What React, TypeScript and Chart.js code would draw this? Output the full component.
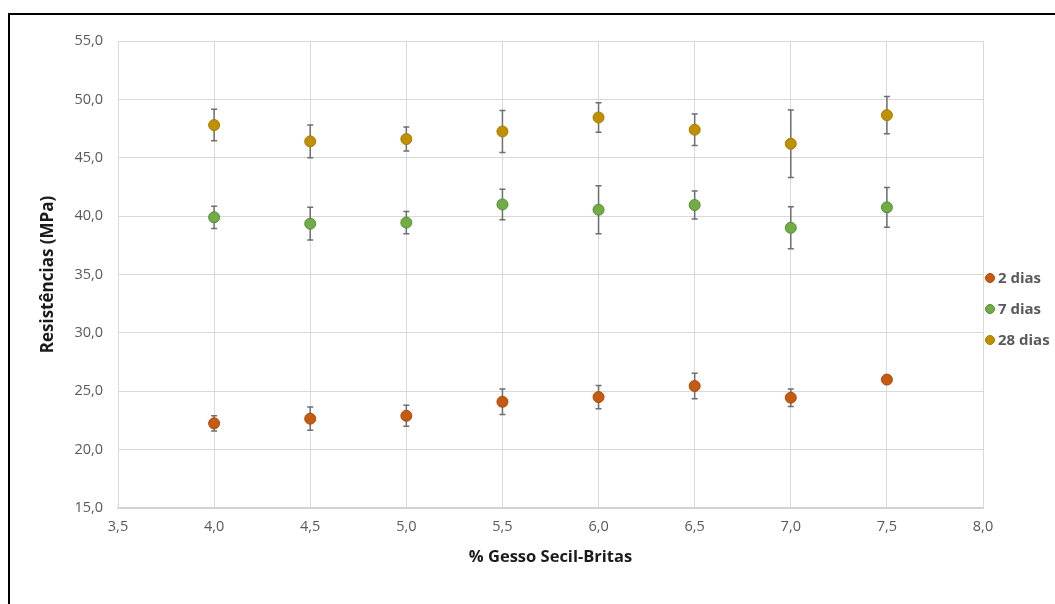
import React, { useEffect, useRef } from "react";
import { Chart, registerables } from "chart.js";

Chart.register(...registerables);

const gypsumPct = [4.0, 4.5, 5.0, 5.5, 6.0, 6.5, 7.0, 7.5];
const seriesLabels = ["2 dias", "7 dias", "28 dias"];
const days2 = [22.25, 22.65, 22.9, 24.1, 24.5, 25.45, 24.45, 26.0];
const days2Err = [0.65, 1.0, 0.9, 1.1, 1.0, 1.1, 0.75, 0.15];
const days7 = [39.9, 39.35, 39.45, 41.0, 40.55, 40.95, 39.0, 40.75];
const days7Err = [0.95, 1.4, 0.95, 1.3, 2.05, 1.2, 1.8, 1.7];
const days28 = [47.8, 46.4, 46.6, 47.25, 48.45, 47.4, 46.2, 48.65];
const days28Err = [1.35, 1.4, 1.03, 1.8, 1.26, 1.35, 2.9, 1.6];
const xTicks = [3.5, 4.0, 4.5, 5.0, 5.5, 6.0, 6.5, 7.0, 7.5, 8.0];
const yTicks = [15, 20, 25, 30, 35, 40, 45, 50, 55];

const fills = ["#C55A11", "#70AD47", "#BF9000"];
const borders = ["#A9490C", "#548A35", "#A27A06"];

const FONT = "'Open Sans', 'Noto Sans', sans-serif";

const errorBarPlugin = {
  id: "errorBars",
  beforeDatasetsDraw(chart: any) {
    const { ctx, scales } = chart;
    ctx.save();
    ctx.strokeStyle = "#6e6e6e";
    ctx.lineWidth = 1.5;
    chart.data.datasets.forEach((ds: any) => {
      const errs: number[] = ds.errors || [];
      ds.data.forEach((pt: any, i: number) => {
        const e = errs[i];
        if (!e) return;
        const x = scales.x.getPixelForValue(pt.x);
        const yTop = scales.y.getPixelForValue(pt.y + e);
        const yBot = scales.y.getPixelForValue(pt.y - e);
        ctx.beginPath();
        ctx.moveTo(x, yTop);
        ctx.lineTo(x, yBot);
        ctx.moveTo(x - 3, yTop);
        ctx.lineTo(x + 3, yTop);
        ctx.moveTo(x - 3, yBot);
        ctx.lineTo(x + 3, yBot);
        ctx.stroke();
      });
    });
    ctx.restore();
  },
};

const legendPlugin = {
  id: "sideLegend",
  afterDraw(chart: any) {
    const { ctx } = chart;
    ctx.save();
    ctx.font = `bold 15px ${FONT}`;
    ctx.textBaseline = "middle";
    ctx.textAlign = "left";
    chart.data.datasets.forEach((ds: any, i: number) => {
      const cy = 278 + i * 31;
      const cx = 990;
      ctx.beginPath();
      ctx.arc(cx, cy, 4.5, 0, Math.PI * 2);
      ctx.fillStyle = ds.backgroundColor;
      ctx.fill();
      ctx.lineWidth = 1;
      ctx.strokeStyle = ds.borderColor;
      ctx.stroke();
      ctx.fillStyle = "#595959";
      ctx.fillText(ds.label, 998, cy + 1);
    });
    ctx.restore();
  },
};

const fmt = (v: number) => v.toFixed(1).replace(".", ",");

export default function App() {
  const ref = useRef<HTMLCanvasElement | null>(null);

  useEffect(() => {
    if (!ref.current) return;
    const make = (vals: number[], errs: number[], k: number) => ({
      label: seriesLabels[k],
      data: gypsumPct.map((x, i) => ({ x, y: vals[i] })),
      errors: errs,
      backgroundColor: fills[k],
      borderColor: borders[k],
      borderWidth: 1,
      pointRadius: 5.5,
      pointHoverRadius: 5.5,
      showLine: false,
    });
    const chart = new Chart(ref.current, {
      type: "scatter",
      data: {
        datasets: [
          make(days2, days2Err, 0),
          make(days7, days7Err, 1),
          make(days28, days28Err, 2),
        ] as any,
      },
      options: {
        responsive: false,
        animation: false,
        devicePixelRatio: 1,
        layout: { padding: { left: 38, top: 41, right: 72, bottom: 37 } },
        plugins: {
          legend: { display: false },
          tooltip: { enabled: false },
        },
        scales: {
          x: {
            type: "linear",
            min: 3.5,
            max: 8,
            afterBuildTicks: (s: any) => {
              s.ticks = xTicks.map((v) => ({ value: v }));
            },
            afterFit: (s: any) => {
              s.height = 59;
            },
            ticks: {
              callback: (v: any) => fmt(Number(v)),
              color: "#595959",
              font: { family: FONT, size: 14.5 },
              padding: 10,
              maxRotation: 0,
            },
            grid: { color: "#d9d9d9", drawTicks: false, lineWidth: 1 },
            border: { color: "#d0d0d0", width: 1.5 },
            title: {
              display: true,
              text: "% Gesso Secil-Britas",
              color: "#1a1a1a",
              font: { family: FONT, size: 16.5, weight: "bold" },
              padding: 0,
            },
          },
          y: {
            type: "linear",
            min: 15,
            max: 55,
            afterBuildTicks: (s: any) => {
              s.ticks = yTicks.map((v) => ({ value: v }));
            },
            afterFit: (s: any) => {
              s.width = 80;
            },
            ticks: {
              callback: (v: any) => fmt(Number(v)),
              color: "#595959",
              font: { family: FONT, size: 14.5 },
              padding: 15,
            },
            grid: { color: "#d9d9d9", drawTicks: false, lineWidth: 1 },
            border: { color: "#d9d9d9", width: 1 },
            title: {
              display: true,
              text: "Resistências (MPa)",
              color: "#1a1a1a",
              font: { family: FONT, size: 17, weight: "bold" },
              padding: 0,
            },
          },
        },
      } as any,
      plugins: [errorBarPlugin, legendPlugin],
    });
    return () => chart.destroy();
  }, []);

  return (
    <div
      style={{
        position: "fixed",
        left: 0,
        top: 0,
        width: 1055,
        height: 604,
        overflow: "hidden",
        background: "#fff",
      }}
    >
      <div
        style={{
          position: "absolute",
          left: 8,
          top: 13,
          width: 2000,
          height: 2000,
          borderTop: "2px solid #000",
          borderLeft: "2px solid #000",
        }}
      />
      <canvas
        ref={ref}
        width={1055}
        height={604}
        style={{ position: "absolute", left: 0, top: 0, width: 1055, height: 604 }}
      />
    </div>
  );
}
